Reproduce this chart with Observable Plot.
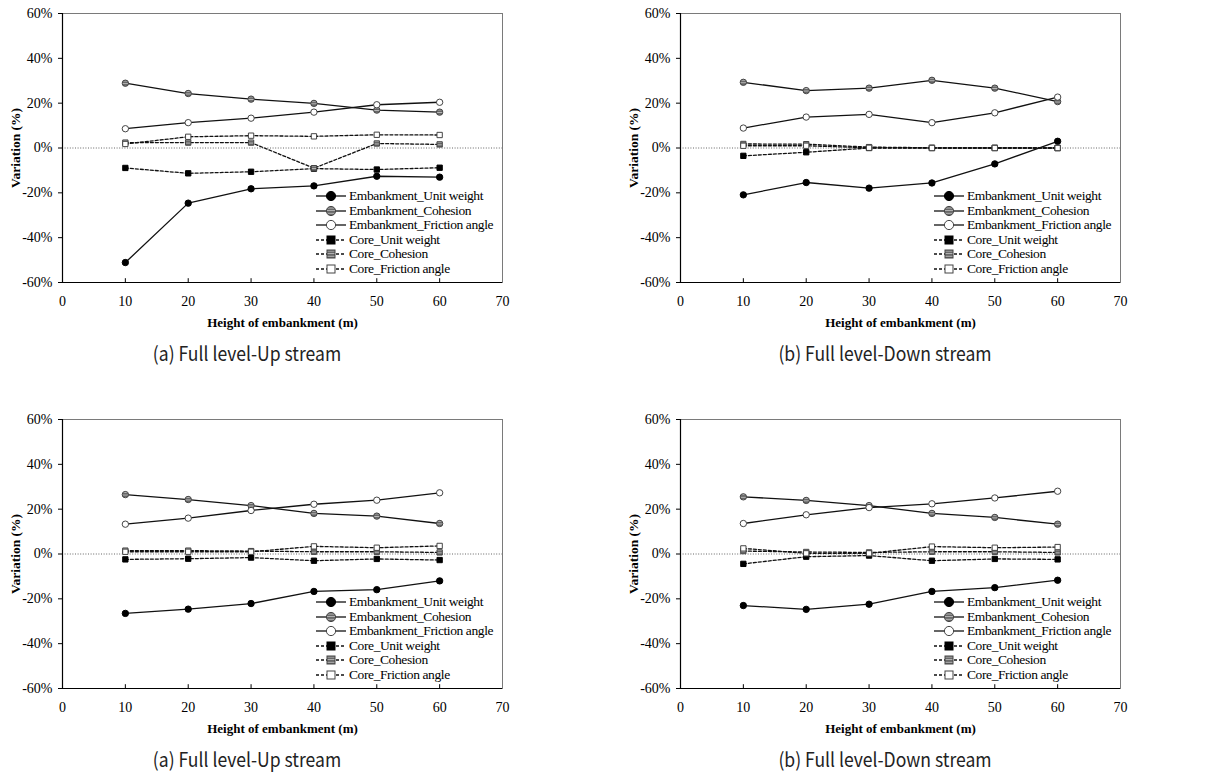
<!DOCTYPE html>
<html>
<head>
<meta charset="utf-8">
<script src="https://cdn.jsdelivr.net/npm/d3@7"></script>
<script src="https://cdn.jsdelivr.net/npm/@observablehq/plot@0.6"></script>
<style>
  html, body { margin: 0; padding: 0; background: #fff; }
  body { width: 1220px; height: 773px; position: relative; overflow: hidden; }
  .panel { position: absolute; width: 560px; height: 370px; }
  .caption { position: absolute; top: 338px; white-space: nowrap; font-family: "Noto Sans CJK KR", "Noto Sans", sans-serif; font-weight: 400; font-size: 19.5px; color: #222; transform: translateX(-50%) scaleX(0.9); }
  .legend { position: absolute; left: 316px; top: 189px; font-family: "Liberation Serif", "Times New Roman", serif; font-size: 13.5px; color: #000; }
  .legend .row { height: 14.5px; line-height: 14.5px; display: flex; align-items: center; white-space: nowrap; letter-spacing: -0.4px; }
  .legend svg { flex: none; margin-right: 3px; }
  svg text { font-family: "Liberation Serif", "Times New Roman", serif; }
</style>
</head>
<body>
<svg width="0" height="0" style="position:absolute">
  <defs>
    <pattern id="stripes" width="4" height="2.6" patternUnits="userSpaceOnUse">
      <rect width="4" height="2.6" fill="#666"></rect>
      <rect width="4" height="0.9" y="0" fill="#bdbdbd"></rect>
    </pattern>
  </defs>
</svg>
<script>
// ---- data ----
const heights = [10, 20, 30, 40, 50, 60];
const seriesNames = [
  "Embankment_Unit weight",
  "Embankment_Cohesion",
  "Embankment_Friction angle",
  "Core_Unit weight",
  "Core_Cohesion",
  "Core_Friction angle"
];
const xTicks = [0, 10, 20, 30, 40, 50, 60, 70];
const yTicks = [-60, -40, -20, 0, 20, 40, 60];
const captions = [
  "(a) Full level-Up stream",
  "(b) Full level-Down stream",
  "(a) Full level-Up stream",
  "(b) Full level-Down stream"
];
// Panel 1 (top left): rows follow seriesNames
const upTop = [
  [-51.1, -24.6, -18.2, -16.9, -12.6, -13.0],
  [28.9, 24.3, 21.8, 19.9, 16.9, 16.0],
  [8.6, 11.3, 13.3, 16.0, 19.3, 20.4],
  [-8.9, -11.3, -10.6, -9.2, -9.6, -8.8],
  [2.4, 2.4, 2.4, -9.0, 2.0, 1.6],
  [1.8, 5.0, 5.5, 5.2, 5.9, 5.8]
];
// Panel 2 (top right)
const downTop = [
  [-20.9, -15.4, -17.9, -15.6, -7.1, 3.0],
  [29.3, 25.6, 26.7, 30.2, 26.7, 20.7],
  [8.9, 13.8, 15.0, 11.3, 15.7, 22.7],
  [-3.5, -1.9, 0.0, 0.0, 0.0, 0.0],
  [1.8, 1.7, 0.4, 0.1, 0.1, 0.0],
  [1.0, 1.0, 0.1, 0.0, 0.0, 0.0]
];
// Panel 3 (bottom left)
const upBottom = [
  [-26.5, -24.6, -22.1, -16.7, -15.9, -12.0],
  [26.5, 24.3, 21.6, 18.1, 16.9, 13.6],
  [13.3, 16.0, 19.4, 22.2, 24.0, 27.3],
  [-2.4, -2.1, -1.6, -3.0, -2.2, -2.7],
  [1.5, 1.5, 1.3, 1.0, 1.0, 0.7],
  [1.0, 1.0, 1.0, 3.4, 2.8, 3.6]
];
// Panel 4 (bottom right)
const downBottom = [
  [-23.0, -24.7, -22.4, -16.7, -15.0, -11.7],
  [25.5, 23.9, 21.6, 18.1, 16.3, 13.3],
  [13.6, 17.5, 20.7, 22.4, 25.0, 28.0],
  [-4.4, -1.2, -0.7, -3.0, -2.2, -2.4],
  [1.3, 0.9, 0.7, 1.0, 1.0, 0.7],
  [2.5, 0.3, 0.3, 3.3, 2.8, 3.1]
];
const panels = [upTop, downTop, upBottom, downBottom];

// ---- styles per series ----
const fills = ["#000", "url(#stripes)", "#fff", "#000", "url(#stripes)", "#fff"];
const symbols = ["circle", "circle", "circle", "square", "square", "square"];
const serif = "'Liberation Serif', 'Times New Roman', serif";

function makeChart(values) {
  const rows = [];
  seriesNames.forEach((s, i) => heights.forEach((h, j) => rows.push({
    series: s, idx: i, core: i >= 3, h, v: values[i][j]
  })));
  const emb = rows.filter(d => !d.core);
  const core = rows.filter(d => d.core);
  return Plot.plot({
    width: 540, height: 335,
    marginLeft: 62, marginRight: 38, marginTop: 13, marginBottom: 53,
    style: { fontFamily: serif, fontSize: "14px", color: "#000", background: "transparent", overflow: "visible" },
    x: { domain: [0, 70], label: null },
    y: { domain: [-60, 60], label: null },
    marks: [
      Plot.frame({ stroke: "#7a7a7a" }),
      Plot.ruleY([0], { stroke: "#666", strokeDasharray: "1,1.6", strokeWidth: 1 }),
      Plot.ruleX([0], { stroke: "#000", strokeWidth: 1.2 }),
      Plot.ruleY([-60], { stroke: "#000", strokeWidth: 1.2 }),
      Plot.axisY({ ticks: yTicks, tickSize: 4, tickPadding: 6, tickFormat: d => d + "%", label: null, fontFamily: serif, fontSize: 14 }),
      Plot.axisY({ ticks: [], label: "Variation (%)", labelAnchor: "center", labelArrow: "none", labelOffset: 52, fontWeight: "bold", fontSize: 13.5, fontFamily: serif }),
      Plot.axisX({ ticks: xTicks, tickSize: 0, tickPadding: 14, label: null, fontFamily: serif, fontSize: 14 }),
      Plot.ruleX(xTicks.filter(d => d > 0 && d < 70), { y1: -60, y2: -58.3, stroke: "#000" }),
      Plot.axisX({ ticks: [], label: "Height of embankment (m)", labelAnchor: "center", labelArrow: "none", labelOffset: 44, fontWeight: "bold", fontSize: 13, fontFamily: serif }),
      Plot.line(emb, { x: "h", y: "v", z: "series", stroke: "#111", strokeWidth: 1.3 }),
      Plot.line(core, { x: "h", y: "v", z: "series", stroke: "#111", strokeWidth: 1.3, strokeDasharray: "3,2" }),
      Plot.dot(rows, { x: "h", y: "v", symbol: d => symbols[d.idx], r: d => d.core ? 4.7 : 5.3,
        fill: d => fills[d.idx], stroke: d => d.idx === 0 || d.idx === 3 ? "#000" : "#444", strokeWidth: 1 })
    ]
  });
}

function legendSymbol(i) {
  const ns = "http://www.w3.org/2000/svg";
  const svg = document.createElementNS(ns, "svg");
  svg.setAttribute("width", 30); svg.setAttribute("height", 12);
  const line = document.createElementNS(ns, "line");
  line.setAttribute("x1", 0); line.setAttribute("x2", 30);
  line.setAttribute("y1", 6); line.setAttribute("y2", 6);
  line.setAttribute("stroke", "#111"); line.setAttribute("stroke-width", 1.3);
  if (i >= 3) line.setAttribute("stroke-dasharray", "3,2");
  svg.appendChild(line);
  let m;
  if (symbols[i] === "circle") {
    m = document.createElementNS(ns, "circle");
    m.setAttribute("cx", 15); m.setAttribute("cy", 6); m.setAttribute("r", 4.6);
  } else {
    m = document.createElementNS(ns, "rect");
    m.setAttribute("x", 11); m.setAttribute("y", 2); m.setAttribute("width", 8); m.setAttribute("height", 8);
  }
  m.setAttribute("fill", fills[i]);
  m.setAttribute("stroke", i === 0 || i === 3 ? "#000" : "#444");
  svg.appendChild(m);
  return svg;
}

const positions = [[0, 0], [618, 0], [0, 406], [618, 406]];
const captionCenters = [247, 267, 247, 267];

panels.forEach((vals, k) => {
  const div = document.createElement("div");
  div.className = "panel";
  div.style.left = positions[k][0] + "px";
  div.style.top = positions[k][1] + "px";
  div.appendChild(makeChart(vals));
  const leg = document.createElement("div");
  leg.className = "legend";
  seriesNames.forEach((s, i) => {
    const r = document.createElement("div");
    r.className = "row";
    r.appendChild(legendSymbol(i));
    const t = document.createElement("span");
    t.textContent = s;
    r.appendChild(t);
    leg.appendChild(r);
  });
  div.appendChild(leg);
  const cap = document.createElement("div");
  cap.className = "caption";
  cap.style.left = captionCenters[k] + "px";
  cap.textContent = captions[k];
  div.appendChild(cap);
  document.body.appendChild(div);
});
</script>
</body>
</html>
